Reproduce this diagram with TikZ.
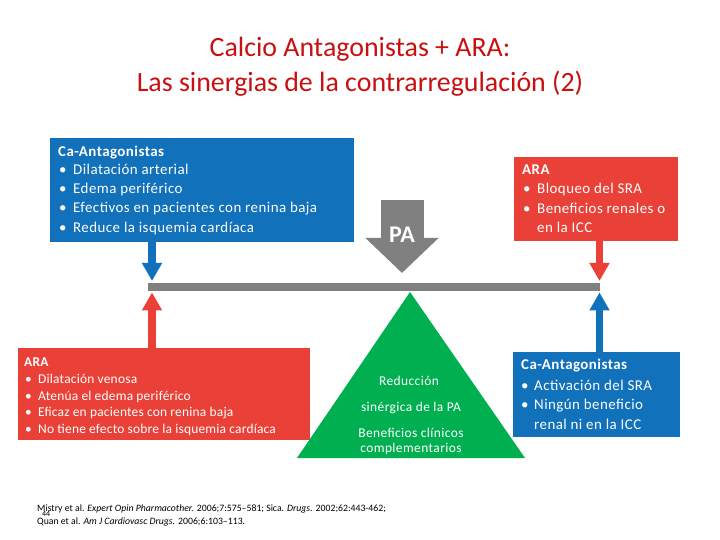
\documentclass[tikz,border=0pt]{standalone}
\usepackage{fontspec}
\setmainfont{Carlito}
\newfontfamily\wideCarlito[LetterSpace=3]{Carlito}
\newfontfamily\semiwideCarlito[LetterSpace=1.5]{Carlito}
\usetikzlibrary{arrows.meta}
\definecolor{boxblue}{RGB}{18,113,187}
\definecolor{boxred}{RGB}{233,65,56}
\definecolor{titlered}{RGB}{200,16,16}
\definecolor{bargray}{RGB}{128,128,128}
\definecolor{trigreen}{RGB}{0,176,80}
\begin{document}
\begin{tikzpicture}[x=1bp,y=-1bp,
  bigtxt/.style={anchor=base west, inner sep=0, text=white, font=\wideCarlito\fontsize{15}{17}\selectfont},
  smalltxt/.style={anchor=base west, inner sep=0, text=white, font=\semiwideCarlito\fontsize{13.5}{16}\selectfont},
  tritxt/.style={anchor=base, inner sep=0, text=white, font=\wideCarlito\fontsize{13.5}{15}\selectfont},
  box/.style={inner sep=0, anchor=north west},
  fatarrow/.style={line width=7.5bp, -{Triangle[width=19bp,length=18bp]}}]
\useasboundingbox (0,0) rectangle (720,540);
% title
\node[anchor=base, inner sep=0, text=titlered, font=\fontsize{28}{32}\selectfont] (t1) at (360,57) {Calcio Antagonistas + ARA:};
\node[anchor=base, inner sep=0, text=titlered, font=\fontsize{28}{32}\selectfont] (t2) at (360,92) {Las sinergias de la contrarregulación (2)};
% boxes
\node[box, fill=boxblue, minimum width=304bp, minimum height=104bp] (caA) at (50,138) {};
\node[box, fill=boxred, minimum width=164bp, minimum height=84bp] (araA) at (514,157) {};
\node[box, fill=boxred, minimum width=292bp, minimum height=92bp] (araB) at (18,348) {};
\node[box, fill=boxblue, minimum width=167bp, minimum height=85bp] (caB) at (513,352) {};
% bar
\node[inner sep=0, fill=bargray, minimum width=452bp, minimum height=8bp, anchor=north west] (bar) at (148,283) {};
% green triangle
\fill[trigreen] (410,292) -- (525,458) -- (297,458) -- cycle;
% PA arrow
\draw[bargray, line width=43bp, -{Triangle[width=71bp,length=35bp]}] (402,200) -- (402,273);
\node[inner sep=0, text=white, font=\bfseries\fontsize{24}{26}\selectfont, anchor=base] (pa) at (402,243) {PA};
% connectors
\coordinate (xl) at (152,0);
\coordinate (xr) at (599.5,0);
\draw[fatarrow, boxblue] (caA.south -| xl) -- ([yshift=2bp]bar.north -| xl);
\draw[fatarrow, boxred] (araA.south -| xr) -- ([yshift=2bp]bar.north -| xr);
\draw[fatarrow, boxred] (araB.north -| xl) -- ([yshift=-1bp]bar.south -| xl);
\draw[fatarrow, boxblue] (caB.north -| xr) -- ([yshift=-1bp]bar.south -| xr);
% text top-left
\node[bigtxt] (a0) at (58,157) {\textbf{Ca-Antagonistas}};
\node[bigtxt] (a1b) at (59,175) {•}; \node[bigtxt] (a1) at (73,175) {Dilatación arterial};
\node[bigtxt] (a2b) at (59,194) {•}; \node[bigtxt] (a2) at (73,194) {Edema periférico};
\node[bigtxt] (a3b) at (59,213) {•}; \node[bigtxt] (a3) at (73,213) {Efectivos en pacientes con renina baja};
\node[bigtxt] (a4b) at (59,233) {•}; \node[bigtxt] (a4) at (73,233) {Reduce la isquemia cardíaca};
% text top-right
\node[bigtxt] (b0) at (522,175) {\textbf{ARA}};
\node[bigtxt] (b1b) at (523,194) {•}; \node[bigtxt] (b1) at (537,194) {Bloqueo del SRA};
\node[bigtxt] (b2b) at (523,214) {•}; \node[bigtxt] (b2) at (537,214) {Beneficios renales o};
\node[bigtxt] (b3) at (537,233) {en la ICC};
% text bottom-left
\node[smalltxt] (c0) at (24,366) {\textbf{ARA}};
\node[smalltxt] (c1b) at (25,383) {•}; \node[smalltxt] (c1) at (38,383) {Dilatación venosa};
\node[smalltxt] (c2b) at (25,400) {•}; \node[smalltxt] (c2) at (38,400) {Atenúa el edema periférico};
\node[smalltxt] (c3b) at (25,416) {•}; \node[smalltxt] (c3) at (38,416) {Eficaz en pacientes con renina baja};
\node[smalltxt] (c4b) at (25,433) {•}; \node[smalltxt] (c4) at (38,433) {No tiene efecto sobre la isquemia cardíaca};
% text bottom-right
\node[bigtxt] (d0) at (521,369) {\textbf{Ca-Antagonistas}};
\node[bigtxt] (d1b) at (521,390) {•}; \node[bigtxt] (d1) at (534,390) {Activación del SRA};
\node[bigtxt] (d2b) at (521,409) {•}; \node[bigtxt] (d2) at (534,409) {Ningún beneficio};
\node[bigtxt] (d3) at (534,429) {renal ni en la ICC};
% triangle text
\node[tritxt] (g1) at (409,385) {Reducción};
\node[tritxt] (g2) at (411,411) {sinérgica de la PA};
\node[tritxt] (g3) at (411,437) {Beneficios clínicos};
\node[tritxt] (g4) at (411,452) {complementarios};
% references
\node[anchor=base west, inner sep=0, font=\fontsize{9.8}{11}\selectfont] (r1) at (37,511) {Mistry et al. \textit{Expert Opin Pharmacother.} 2006;7:575–581; Sica. \textit{Drugs.} 2002;62:443-462;};
\node[anchor=base west, inner sep=0, font=\fontsize{9.8}{11}\selectfont] (r2) at (37,524) {Quan et al. \textit{Am J Cardiovasc Drugs.} 2006;6:103–113.};
\node[anchor=base west, inner sep=0, font=\fontsize{8}{9}\selectfont] (num) at (42,516) {44};
\end{tikzpicture}
\end{document}
